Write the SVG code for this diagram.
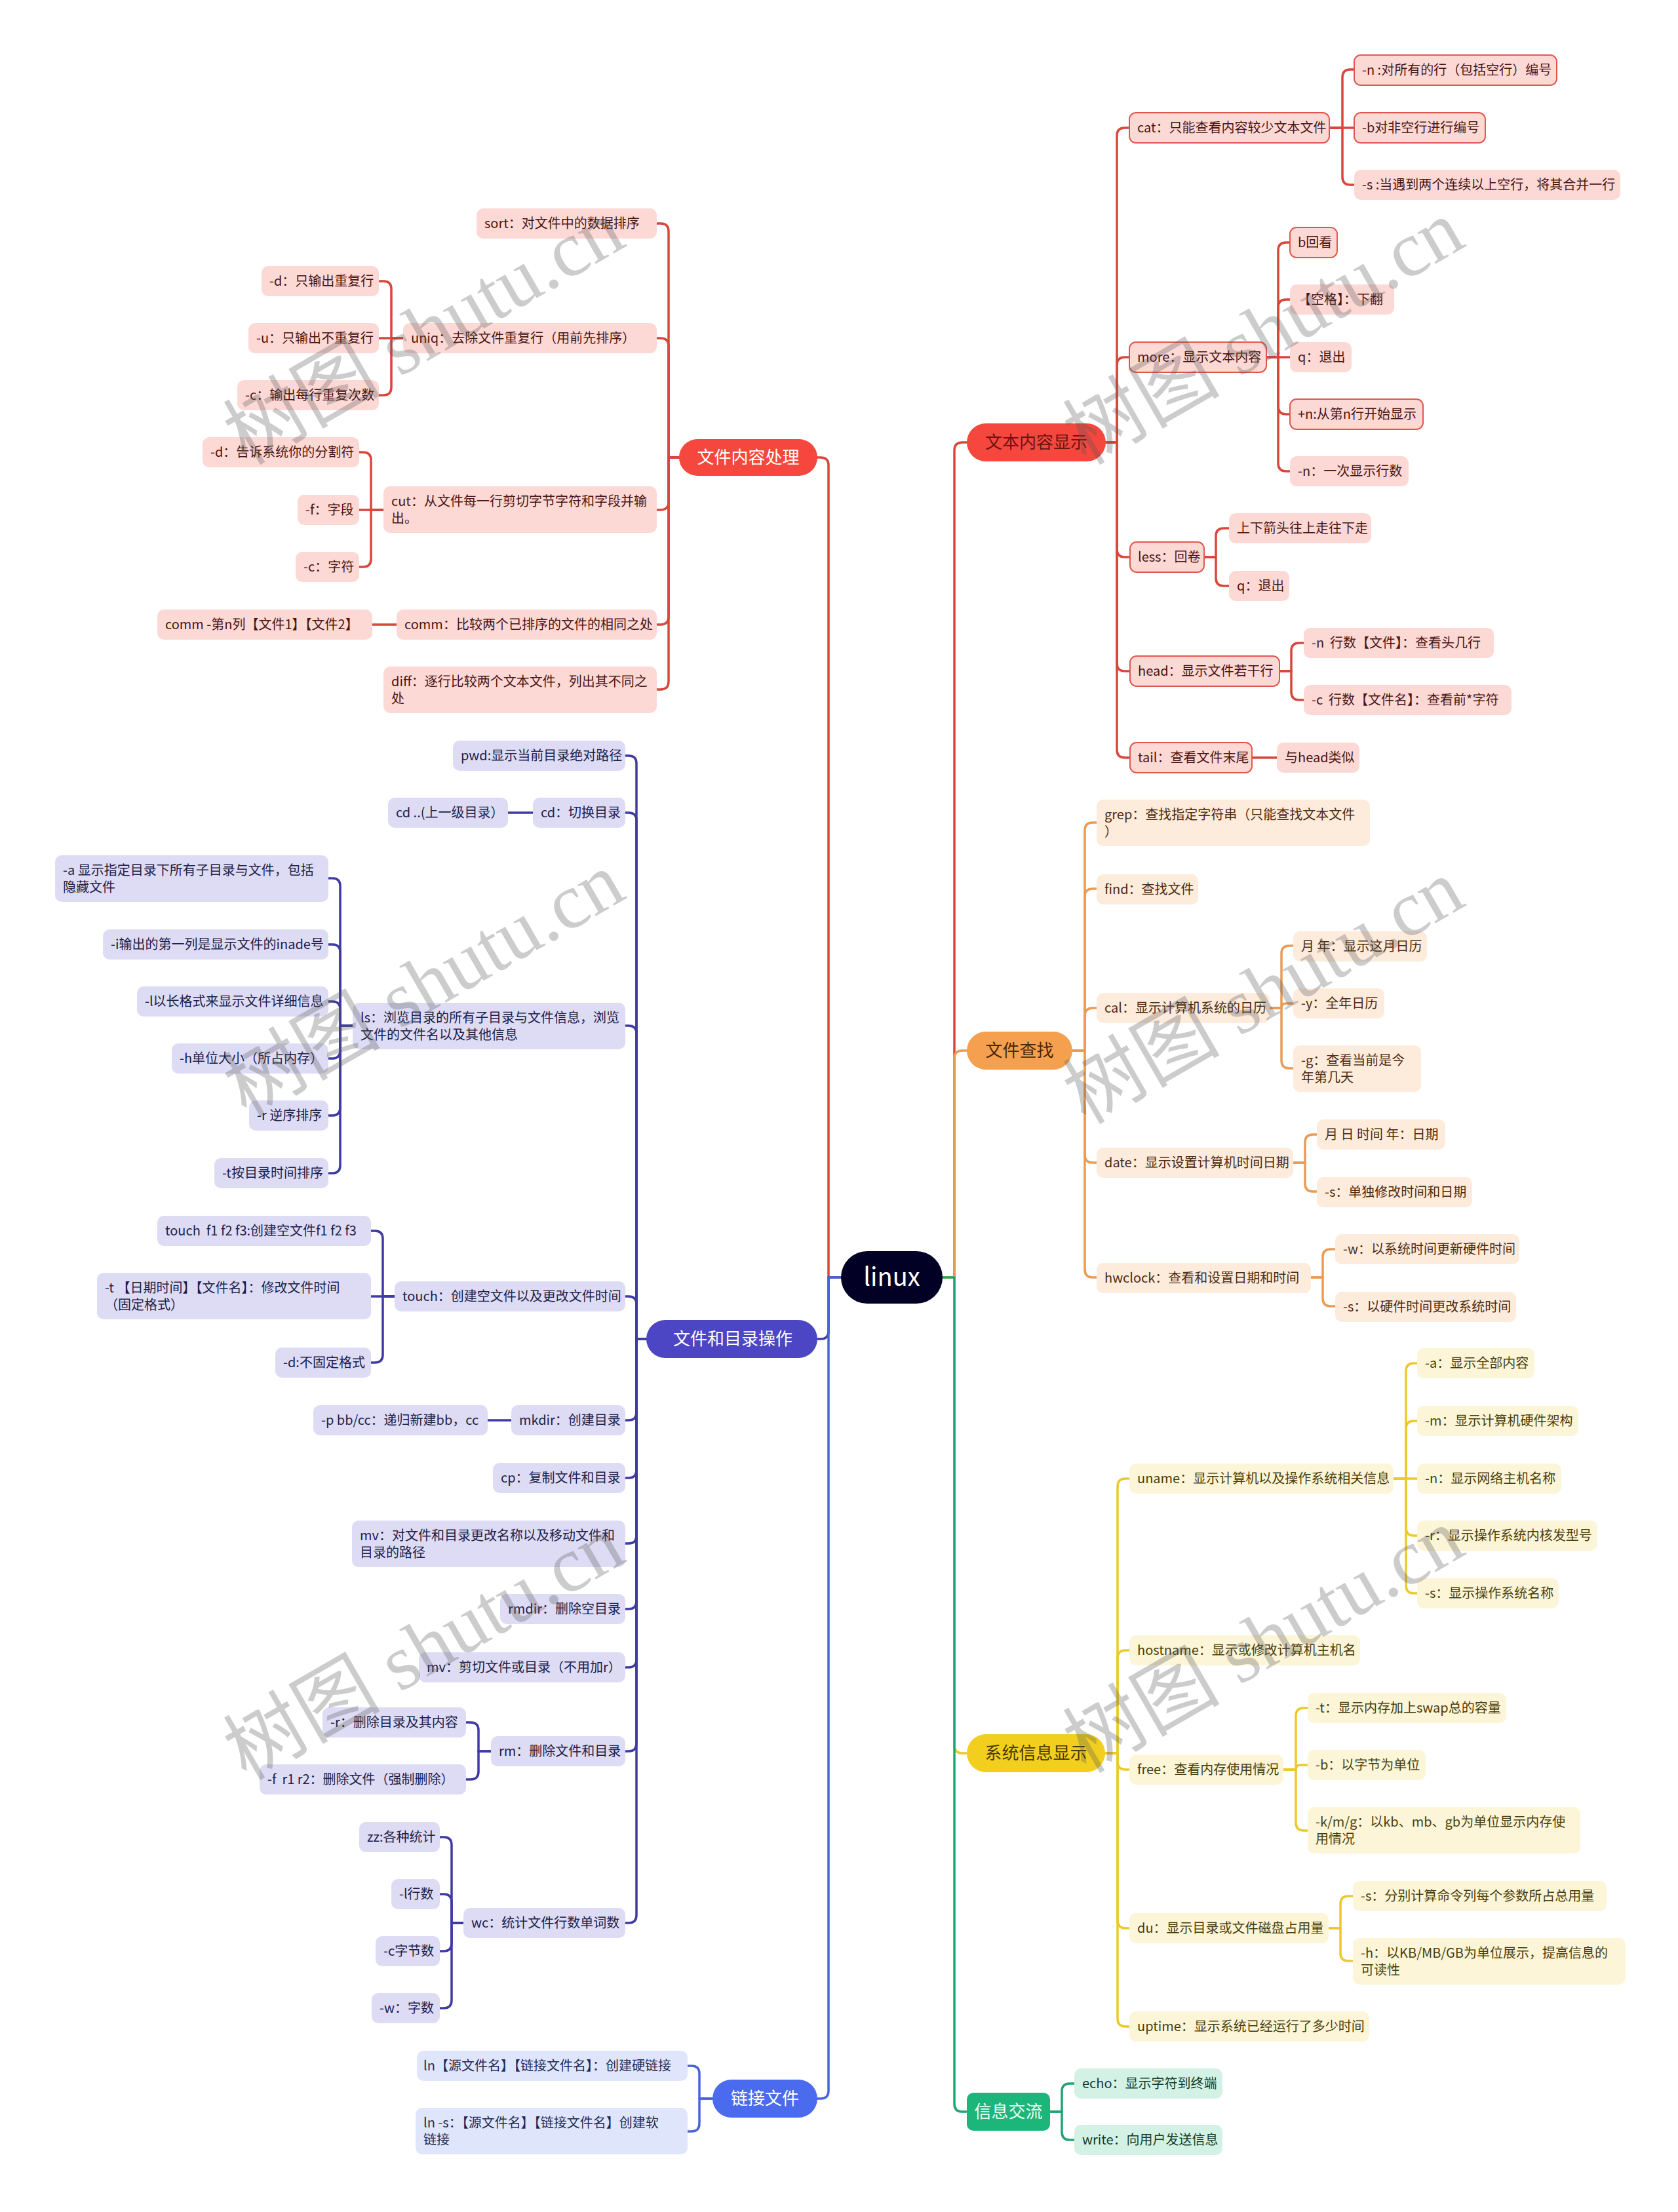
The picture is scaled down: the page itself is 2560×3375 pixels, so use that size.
<svg xmlns="http://www.w3.org/2000/svg" width="2560" height="3375" viewBox="0 0 2560 3375">
<style>
text{font-family:"Noto Sans CJK SC","Noto Sans",sans-serif;font-size:20px;white-space:pre}
.r rect{fill:#fdd9d6}.r text{fill:#4a1512}
.bd rect{stroke:#e2574d;stroke-width:2}
.p rect{fill:#dddcf4}.p text{fill:#20204a}
.b rect{fill:#dfe6fb}.b text{fill:#1e2a55}
.o rect{fill:#fdebdc}.o text{fill:#4d2c10}
.y rect{fill:#fcf5d7}.y text{fill:#4a3e0c}
.g rect{fill:#d3f2e5}.g text{fill:#123d2c}
.m text{font-size:26px;text-anchor:middle}
.conn path{fill:none;stroke-width:3.5;stroke-linejoin:round;stroke-linecap:round}
.cr{stroke:#d9463b}.cp{stroke:#3f3ba3}.cb{stroke:#4a63d8}.co{stroke:#ea9c55}.cy{stroke:#ecc92b}.cg{stroke:#1ea672}
.wm text{font-family:"Liberation Serif","Noto Sans CJK SC",serif;font-size:120px;fill:#5a5a5a;opacity:.3;text-anchor:middle}
</style>
<rect width="2560" height="3375" fill="#ffffff"/>
<g id="connectors" class="conn">
<path class="cr" d="M1283 1949H1264V710Q1264 698 1252 698H1247"/>
<path class="cp" d="M1283 1949H1264V2031Q1264 2043 1252 2043H1247"/>
<path class="cb" d="M1283 1949H1264V3190Q1264 3202 1252 3202H1247"/>
<path class="cr" d="M1438 1949H1456V687Q1456 675 1468 675H1475"/>
<path class="co" d="M1438 1949H1456V1615Q1456 1603 1468 1603H1475"/>
<path class="cy" d="M1438 1949H1456V2663Q1456 2675 1468 2675H1475"/>
<path class="cg" d="M1438 1949H1456V3210Q1456 3222 1468 3222H1475"/>
<path class="cr" d="M1036 698H1020V353Q1020 341 1008 341H1002"/>
<path class="cr" d="M1036 698H1020V528Q1020 516 1008 516H1002"/>
<path class="cr" d="M1036 698H1020V766Q1020 778 1008 778H1002"/>
<path class="cr" d="M1036 698H1020V941Q1020 953 1008 953H1002"/>
<path class="cr" d="M1036 698H1020V1040Q1020 1052 1008 1052H1002"/>
<path class="cr" d="M615 516H597V441Q597 429 585 429H578"/>
<path class="cr" d="M615 516H578"/>
<path class="cr" d="M615 516H597V591Q597 603 585 603H578"/>
<path class="cr" d="M585 778H566V702Q566 690 554 690H548"/>
<path class="cr" d="M585 778H548"/>
<path class="cr" d="M585 778H566V853Q566 865 554 865H548"/>
<path class="cr" d="M605 953H568"/>
<path class="cp" d="M986 2043H971V1165Q971 1153 959 1153H954"/>
<path class="cp" d="M986 2043H971V1252Q971 1240 959 1240H954"/>
<path class="cp" d="M986 2043H971V1577Q971 1565 959 1565H954"/>
<path class="cp" d="M986 2043H971V1990Q971 1978 959 1978H954"/>
<path class="cp" d="M986 2043H971V2155Q971 2167 959 2167H954"/>
<path class="cp" d="M986 2043H971V2243Q971 2255 959 2255H954"/>
<path class="cp" d="M986 2043H971V2343Q971 2355 959 2355H954"/>
<path class="cp" d="M986 2043H971V2443Q971 2455 959 2455H954"/>
<path class="cp" d="M986 2043H971V2532Q971 2544 959 2544H954"/>
<path class="cp" d="M986 2043H971V2660Q971 2672 959 2672H954"/>
<path class="cp" d="M986 2043H971V2922Q971 2934 959 2934H954"/>
<path class="cp" d="M813 1240H775"/>
<path class="cp" d="M538 1565H519V1352Q519 1340 507 1340H501"/>
<path class="cp" d="M538 1565H519V1453Q519 1441 507 1441H501"/>
<path class="cp" d="M538 1565H519V1540Q519 1528 507 1528H501"/>
<path class="cp" d="M538 1565H519V1603Q519 1615 507 1615H501"/>
<path class="cp" d="M538 1565H519V1690Q519 1702 507 1702H501"/>
<path class="cp" d="M538 1565H519V1778Q519 1790 507 1790H501"/>
<path class="cp" d="M602 1978H584V1890Q584 1878 572 1878H566"/>
<path class="cp" d="M602 1978H566"/>
<path class="cp" d="M602 1978H584V2067Q584 2079 572 2079H566"/>
<path class="cp" d="M780 2167H744"/>
<path class="cp" d="M749 2672H730V2640Q730 2628 718 2628H711"/>
<path class="cp" d="M749 2672H730V2703Q730 2715 718 2715H711"/>
<path class="cp" d="M707 2934H689V2815Q689 2803 677 2803H671"/>
<path class="cp" d="M707 2934H689V2902Q689 2890 677 2890H671"/>
<path class="cp" d="M707 2934H689V2965Q689 2977 677 2977H671"/>
<path class="cp" d="M707 2934H689V3052Q689 3064 677 3064H671"/>
<path class="cb" d="M1087 3202H1067V3164Q1067 3152 1055 3152H1049"/>
<path class="cb" d="M1087 3202H1067V3240Q1067 3252 1055 3252H1049"/>
<path class="cr" d="M1687 675H1704V207Q1704 195 1716 195H1723"/>
<path class="cr" d="M1687 675H1704V557Q1704 545 1716 545H1723"/>
<path class="cr" d="M1687 675H1704V838Q1704 850 1716 850H1723"/>
<path class="cr" d="M1687 675H1704V1012Q1704 1024 1716 1024H1723"/>
<path class="cr" d="M1687 675H1704V1144Q1704 1156 1716 1156H1723"/>
<path class="cr" d="M2028 195H2048V118Q2048 106 2060 106H2066"/>
<path class="cr" d="M2028 195H2066"/>
<path class="cr" d="M2028 195H2048V270Q2048 282 2060 282H2066"/>
<path class="cr" d="M1932 545H1950V382Q1950 370 1962 370H1968"/>
<path class="cr" d="M1932 545H1950V469Q1950 457 1962 457H1968"/>
<path class="cr" d="M1932 545H1968"/>
<path class="cr" d="M1932 545H1950V620Q1950 632 1962 632H1968"/>
<path class="cr" d="M1932 545H1950V707Q1950 719 1962 719H1968"/>
<path class="cr" d="M1837 850H1855V818Q1855 806 1867 806H1875"/>
<path class="cr" d="M1837 850H1855V882Q1855 894 1867 894H1875"/>
<path class="cr" d="M1952 1024H1970V993Q1970 981 1982 981H1989"/>
<path class="cr" d="M1952 1024H1970V1056Q1970 1068 1982 1068H1989"/>
<path class="cr" d="M1910 1156H1948"/>
<path class="co" d="M1636 1603H1655V1267Q1655 1255 1667 1255H1673"/>
<path class="co" d="M1636 1603H1655V1368Q1655 1356 1667 1356H1673"/>
<path class="co" d="M1636 1603H1655V1550Q1655 1538 1667 1538H1673"/>
<path class="co" d="M1636 1603H1655V1762Q1655 1774 1667 1774H1673"/>
<path class="co" d="M1636 1603H1655V1937Q1655 1949 1667 1949H1673"/>
<path class="co" d="M1937 1538H1955V1455Q1955 1443 1967 1443H1973"/>
<path class="co" d="M1937 1538H1955Q1955 1531 1962 1531H1973"/>
<path class="co" d="M1937 1538H1955V1618Q1955 1630 1967 1630H1973"/>
<path class="co" d="M1973 1774H1991V1743Q1991 1731 2003 1731H2009"/>
<path class="co" d="M1973 1774H1991V1806Q1991 1818 2003 1818H2009"/>
<path class="co" d="M2000 1949H2018V1918Q2018 1906 2030 1906H2037"/>
<path class="co" d="M2000 1949H2018V1981Q2018 1993 2030 1993H2037"/>
<path class="cy" d="M1686 2675H1705V2268Q1705 2256 1717 2256H1723"/>
<path class="cy" d="M1686 2675H1705V2530Q1705 2518 1717 2518H1723"/>
<path class="cy" d="M1686 2675H1705V2688Q1705 2700 1717 2700H1723"/>
<path class="cy" d="M1686 2675H1705V2930Q1705 2942 1717 2942H1723"/>
<path class="cy" d="M1686 2675H1705V3080Q1705 3092 1717 3092H1723"/>
<path class="cy" d="M2126 2256H2145V2092Q2145 2080 2157 2080H2162"/>
<path class="cy" d="M2126 2256H2145V2180Q2145 2168 2157 2168H2162"/>
<path class="cy" d="M2126 2256H2162"/>
<path class="cy" d="M2126 2256H2145V2331Q2145 2343 2157 2343H2162"/>
<path class="cy" d="M2126 2256H2145V2419Q2145 2431 2157 2431H2162"/>
<path class="cy" d="M1958 2700H1977V2618Q1977 2606 1989 2606H1995"/>
<path class="cy" d="M1958 2700H1977Q1977 2693 1984 2693H1995"/>
<path class="cy" d="M1958 2700H1977V2781Q1977 2793 1989 2793H1995"/>
<path class="cy" d="M2027 2942H2045V2905Q2045 2893 2057 2893H2064"/>
<path class="cy" d="M2027 2942H2045V2980Q2045 2992 2057 2992H2064"/>
<path class="cg" d="M1602 3222H1620V3191Q1620 3179 1632 3179H1639"/>
<path class="cg" d="M1602 3222H1620V3253Q1620 3265 1632 3265H1639"/>
</g>
<g id="root"><rect x="1283" y="1909" width="155" height="80" rx="40" fill="#020024"/><text x="1360.5" y="1962" fill="#ffffff" text-anchor="middle" style="font-size:38px">linux</text></g>
<g id="b_content" class="m"><rect x="1036" y="670" width="211" height="56" rx="28" fill="#f5473d"/><text x="1141.5" y="707" fill="#ffffff">文件内容处理</text></g>
<g id="b_dir" class="m"><rect x="986" y="2014" width="261" height="58" rx="29" fill="#4c45c4"/><text x="1118" y="2052" fill="#ffffff">文件和目录操作</text></g>
<g id="b_link" class="m"><rect x="1087" y="3173" width="160" height="58" rx="29" fill="#4b6bef"/><text x="1167" y="3211" fill="#ffffff">链接文件</text></g>
<g id="b_text" class="m"><rect x="1475" y="646" width="212" height="58" rx="29" fill="#f5473d"/><text x="1581" y="684" fill="#6b1410">文本内容显示</text></g>
<g id="b_find" class="m"><rect x="1475" y="1574" width="161" height="58" rx="29" fill="#f4a04f"/><text x="1555.5" y="1612" fill="#4d2606">文件查找</text></g>
<g id="b_sys" class="m"><rect x="1475" y="2646" width="211" height="58" rx="29" fill="#f2cf1f"/><text x="1580.5" y="2684" fill="#4a3a00">系统信息显示</text></g>
<g id="b_msg" class="m"><rect x="1475" y="3193" width="127" height="58" rx="10" fill="#1db67a"/><text x="1538.5" y="3231" fill="#e8fff4">信息交流</text></g>
<g id="n_sort" class="r"><rect x="727" y="318" width="275" height="46" rx="10"/><text x="739" y="348">sort：对文件中的数据排序</text></g>
<g id="n_uniq" class="r"><rect x="615" y="493" width="387" height="46" rx="10"/><text x="627" y="523">uniq：去除文件重复行（用前先排序）</text></g>
<g id="n_uniq_d" class="r"><rect x="399" y="406" width="179" height="46" rx="10"/><text x="411" y="436">-d：只输出重复行</text></g>
<g id="n_uniq_u" class="r"><rect x="379" y="493" width="199" height="46" rx="10"/><text x="391" y="523">-u：只输出不重复行</text></g>
<g id="n_uniq_c" class="r"><rect x="362" y="580" width="216" height="46" rx="10"/><text x="374" y="610">-c：输出每行重复次数</text></g>
<g id="n_cut" class="r"><rect x="585" y="742" width="417" height="71" rx="10"/><text x="597" y="772">cut：从文件每一行剪切字节字符和字段并输</text><text x="597" y="798">出。</text></g>
<g id="n_cut_d" class="r"><rect x="309" y="667" width="239" height="46" rx="10"/><text x="321" y="697">-d：告诉系统你的分割符</text></g>
<g id="n_cut_f" class="r"><rect x="454" y="755" width="94" height="46" rx="10"/><text x="466" y="785">-f：字段</text></g>
<g id="n_cut_c" class="r"><rect x="451" y="842" width="97" height="46" rx="10"/><text x="463" y="872">-c：字符</text></g>
<g id="n_comm" class="r"><rect x="605" y="930" width="397" height="46" rx="10"/><text x="617" y="960">comm：比较两个已排序的文件的相同之处</text></g>
<g id="n_comm_n" class="r"><rect x="240" y="930" width="328" height="46" rx="10"/><text x="252" y="960">comm -第n列【文件1】【文件2】</text></g>
<g id="n_diff" class="r"><rect x="585" y="1017" width="417" height="71" rx="10"/><text x="597" y="1047">diff：逐行比较两个文本文件，列出其不同之</text><text x="597" y="1073">处</text></g>
<g id="n_pwd" class="p"><rect x="691" y="1130" width="263" height="46" rx="10"/><text x="703" y="1160">pwd:显示当前目录绝对路径</text></g>
<g id="n_cd" class="p"><rect x="813" y="1217" width="141" height="46" rx="10"/><text x="825" y="1247">cd：切换目录</text></g>
<g id="n_cd_up" class="p"><rect x="592" y="1217" width="183" height="46" rx="10"/><text x="604" y="1247">cd ..(上一级目录）</text></g>
<g id="n_ls" class="p"><rect x="538" y="1530" width="416" height="71" rx="10"/><text x="550" y="1560">ls：浏览目录的所有子目录与文件信息，浏览</text><text x="550" y="1586">文件的文件名以及其他信息</text></g>
<g id="n_ls_a" class="p"><rect x="84" y="1305" width="417" height="71" rx="10"/><text x="96" y="1335">-a 显示指定目录下所有子目录与文件，包括</text><text x="96" y="1361">隐藏文件</text></g>
<g id="n_ls_i" class="p"><rect x="157" y="1418" width="344" height="46" rx="10"/><text x="169" y="1448">-i输出的第一列是显示文件的inade号</text></g>
<g id="n_ls_l" class="p"><rect x="209" y="1505" width="292" height="46" rx="10"/><text x="221" y="1535">-l以长格式来显示文件详细信息</text></g>
<g id="n_ls_h" class="p"><rect x="262" y="1592" width="239" height="46" rx="10"/><text x="274" y="1622">-h单位大小（所占内存）</text></g>
<g id="n_ls_r" class="p"><rect x="380" y="1679" width="121" height="46" rx="10"/><text x="392" y="1709">-r 逆序排序</text></g>
<g id="n_ls_t" class="p"><rect x="327" y="1767" width="174" height="46" rx="10"/><text x="339" y="1797">-t按目录时间排序</text></g>
<g id="n_touch" class="p"><rect x="602" y="1955" width="352" height="46" rx="10"/><text x="614" y="1985">touch：创建空文件以及更改文件时间</text></g>
<g id="n_touch_f" class="p"><rect x="240" y="1855" width="326" height="46" rx="10"/><text x="252" y="1885">touch  f1 f2 f3:创建空文件f1 f2 f3</text></g>
<g id="n_touch_t" class="p"><rect x="148" y="1942" width="418" height="71" rx="10"/><text x="160" y="1972">-t 【日期时间】【文件名】：修改文件时间</text><text x="160" y="1998">（固定格式）</text></g>
<g id="n_touch_d" class="p"><rect x="420" y="2056" width="146" height="46" rx="10"/><text x="432" y="2086">-d:不固定格式</text></g>
<g id="n_mkdir" class="p"><rect x="780" y="2144" width="174" height="46" rx="10"/><text x="792" y="2174">mkdir：创建目录</text></g>
<g id="n_mkdir_p" class="p"><rect x="478" y="2144" width="266" height="46" rx="10"/><text x="490" y="2174">-p bb/cc：递归新建bb，cc</text></g>
<g id="n_cp" class="p"><rect x="752" y="2232" width="202" height="46" rx="10"/><text x="764" y="2262">cp：复制文件和目录</text></g>
<g id="n_mv" class="p"><rect x="537" y="2320" width="417" height="71" rx="10"/><text x="549" y="2350">mv：对文件和目录更改名称以及移动文件和</text><text x="549" y="2376">目录的路径</text></g>
<g id="n_rmdir" class="p"><rect x="763" y="2432" width="191" height="46" rx="10"/><text x="775" y="2462">rmdir：删除空目录</text></g>
<g id="n_mv2" class="p"><rect x="639" y="2521" width="315" height="46" rx="10"/><text x="651" y="2551">mv：剪切文件或目录（不用加r）</text></g>
<g id="n_rm" class="p"><rect x="749" y="2649" width="205" height="46" rx="10"/><text x="761" y="2679">rm：删除文件和目录</text></g>
<g id="n_rm_r" class="p"><rect x="492" y="2605" width="219" height="46" rx="10"/><text x="504" y="2635">-r：删除目录及其内容</text></g>
<g id="n_rm_f" class="p"><rect x="396" y="2692" width="315" height="46" rx="10"/><text x="408" y="2722">-f  r1 r2：删除文件（强制删除）</text></g>
<g id="n_wc" class="p"><rect x="707" y="2911" width="247" height="46" rx="10"/><text x="719" y="2941">wc：统计文件行数单词数</text></g>
<g id="n_wc_zz" class="p"><rect x="548" y="2780" width="123" height="46" rx="10"/><text x="560" y="2810">zz:各种统计</text></g>
<g id="n_wc_l" class="p"><rect x="597" y="2867" width="74" height="46" rx="10"/><text x="609" y="2897">-l行数</text></g>
<g id="n_wc_c" class="p"><rect x="573" y="2954" width="98" height="46" rx="10"/><text x="585" y="2984">-c字节数</text></g>
<g id="n_wc_w" class="p"><rect x="567" y="3041" width="104" height="46" rx="10"/><text x="579" y="3071">-w：字数</text></g>
<g id="n_ln" class="b"><rect x="636" y="3129" width="413" height="46" rx="10"/><text x="646" y="3159">ln【源文件名】【链接文件名】：创建硬链接</text></g>
<g id="n_lns" class="b"><rect x="634" y="3216" width="415" height="71" rx="10"/><text x="646" y="3246">ln -s：【源文件名】【链接文件名】创建软</text><text x="646" y="3272">链接</text></g>
<g id="n_cat" class="r bd"><rect x="1723" y="172" width="305" height="46" rx="10"/><text x="1735" y="202">cat：只能查看内容较少文本文件</text></g>
<g id="n_cat_n" class="r bd"><rect x="2066" y="84" width="309" height="46" rx="10"/><text x="2078" y="114">-n :对所有的行（包括空行）编号</text></g>
<g id="n_cat_b" class="r bd"><rect x="2066" y="172" width="200" height="46" rx="10"/><text x="2078" y="202">-b对非空行进行编号</text></g>
<g id="n_cat_s" class="r"><rect x="2066" y="259" width="406" height="46" rx="10"/><text x="2078" y="289">-s :当遇到两个连续以上空行，将其合并一行</text></g>
<g id="n_more" class="r bd"><rect x="1723" y="522" width="209" height="46" rx="10"/><text x="1735" y="552">more：显示文本内容</text></g>
<g id="n_more_b" class="r bd"><rect x="1968" y="347" width="72" height="46" rx="10"/><text x="1980" y="377">b回看</text></g>
<g id="n_more_sp" class="r"><rect x="1968" y="434" width="159" height="46" rx="10"/><text x="1980" y="464">【空格】：下翻</text></g>
<g id="n_more_q" class="r"><rect x="1968" y="522" width="94" height="46" rx="10"/><text x="1980" y="552">q：退出</text></g>
<g id="n_more_pn" class="r bd"><rect x="1968" y="609" width="203" height="46" rx="10"/><text x="1980" y="639">+n:从第n行开始显示</text></g>
<g id="n_more_n" class="r"><rect x="1968" y="696" width="181" height="46" rx="10"/><text x="1980" y="726">-n：一次显示行数</text></g>
<g id="n_less" class="r bd"><rect x="1724" y="827" width="113" height="46" rx="10"/><text x="1736" y="857">less：回卷</text></g>
<g id="n_less_a" class="r"><rect x="1875" y="783" width="217" height="46" rx="10"/><text x="1887" y="813">上下箭头往上走往下走</text></g>
<g id="n_less_q" class="r"><rect x="1875" y="871" width="92" height="46" rx="10"/><text x="1887" y="901">q：退出</text></g>
<g id="n_head" class="r bd"><rect x="1724" y="1001" width="228" height="46" rx="10"/><text x="1736" y="1031">head：显示文件若干行</text></g>
<g id="n_head_n" class="r"><rect x="1989" y="958" width="290" height="46" rx="10"/><text x="2001" y="988">-n  行数【文件】：查看头几行</text></g>
<g id="n_head_c" class="r"><rect x="1989" y="1045" width="317" height="46" rx="10"/><text x="2001" y="1075">-c  行数【文件名】：查看前*字符</text></g>
<g id="n_tail" class="r bd"><rect x="1724" y="1133" width="186" height="46" rx="10"/><text x="1736" y="1163">tail：查看文件末尾</text></g>
<g id="n_tail_s" class="r"><rect x="1948" y="1133" width="126" height="46" rx="10"/><text x="1960" y="1163">与head类似</text></g>
<g id="n_grep" class="o"><rect x="1673" y="1220" width="417" height="71" rx="10"/><text x="1685" y="1250">grep：查找指定字符串（只能查找文本文件</text><text x="1685" y="1276">）</text></g>
<g id="n_find" class="o"><rect x="1673" y="1334" width="155" height="46" rx="10"/><text x="1685" y="1364">find：查找文件</text></g>
<g id="n_cal" class="o"><rect x="1673" y="1515" width="264" height="46" rx="10"/><text x="1685" y="1545">cal：显示计算机系统的日历</text></g>
<g id="n_cal_m" class="o"><rect x="1973" y="1421" width="204" height="46" rx="10"/><text x="1985" y="1451">月 年：显示这月日历</text></g>
<g id="n_cal_y" class="o"><rect x="1973" y="1508" width="139" height="46" rx="10"/><text x="1985" y="1538">-y：全年日历</text></g>
<g id="n_cal_g" class="o"><rect x="1973" y="1595" width="195" height="71" rx="10"/><text x="1985" y="1625">-g：查看当前是今</text><text x="1985" y="1651">年第几天</text></g>
<g id="n_date" class="o"><rect x="1673" y="1751" width="300" height="46" rx="10"/><text x="1685" y="1781">date：显示设置计算机时间日期</text></g>
<g id="n_date_d" class="o"><rect x="2009" y="1708" width="196" height="46" rx="10"/><text x="2021" y="1738">月 日 时间 年：日期</text></g>
<g id="n_date_s" class="o"><rect x="2009" y="1796" width="237" height="46" rx="10"/><text x="2021" y="1826">-s：单独修改时间和日期</text></g>
<g id="n_hw" class="o"><rect x="1673" y="1927" width="327" height="46" rx="10"/><text x="1685" y="1957">hwclock：查看和设置日期和时间</text></g>
<g id="n_hw_w" class="o"><rect x="2037" y="1883" width="281" height="46" rx="10"/><text x="2049" y="1913">-w：以系统时间更新硬件时间</text></g>
<g id="n_hw_s" class="o"><rect x="2037" y="1971" width="276" height="46" rx="10"/><text x="2049" y="2001">-s：以硬件时间更改系统时间</text></g>
<g id="n_uname" class="y"><rect x="1723" y="2233" width="403" height="46" rx="10"/><text x="1735" y="2263">uname：显示计算机以及操作系统相关信息</text></g>
<g id="n_un_a" class="y"><rect x="2162" y="2057" width="179" height="46" rx="10"/><text x="2174" y="2087">-a：显示全部内容</text></g>
<g id="n_un_m" class="y"><rect x="2162" y="2145" width="246" height="46" rx="10"/><text x="2174" y="2175">-m：显示计算机硬件架构</text></g>
<g id="n_un_n" class="y"><rect x="2162" y="2233" width="220" height="46" rx="10"/><text x="2174" y="2263">-n：显示网络主机名称</text></g>
<g id="n_un_r" class="y"><rect x="2162" y="2320" width="275" height="46" rx="10"/><text x="2174" y="2350">-r：显示操作系统内核发型号</text></g>
<g id="n_un_s" class="y"><rect x="2162" y="2408" width="216" height="46" rx="10"/><text x="2174" y="2438">-s：显示操作系统名称</text></g>
<g id="n_host" class="y"><rect x="1723" y="2495" width="352" height="46" rx="10"/><text x="1735" y="2525">hostname：显示或修改计算机主机名</text></g>
<g id="n_free" class="y"><rect x="1723" y="2677" width="235" height="46" rx="10"/><text x="1735" y="2707">free：查看内存使用情况</text></g>
<g id="n_free_t" class="y"><rect x="1995" y="2583" width="303" height="46" rx="10"/><text x="2007" y="2613">-t：显示内存加上swap总的容量</text></g>
<g id="n_free_b" class="y"><rect x="1995" y="2670" width="180" height="46" rx="10"/><text x="2007" y="2700">-b：以字节为单位</text></g>
<g id="n_free_k" class="y"><rect x="1995" y="2757" width="416" height="71" rx="10"/><text x="2007" y="2787">-k/m/g：以kb、mb、gb为单位显示内存使</text><text x="2007" y="2813">用情况</text></g>
<g id="n_du" class="y"><rect x="1723" y="2919" width="304" height="46" rx="10"/><text x="1735" y="2949">du：显示目录或文件磁盘占用量</text></g>
<g id="n_du_s" class="y"><rect x="2064" y="2870" width="387" height="46" rx="10"/><text x="2076" y="2900">-s：分别计算命令列每个参数所占总用量</text></g>
<g id="n_du_h" class="y"><rect x="2064" y="2957" width="416" height="71" rx="10"/><text x="2076" y="2987">-h：以KB/MB/GB为单位展示，提高信息的</text><text x="2076" y="3013">可读性</text></g>
<g id="n_uptime" class="y"><rect x="1723" y="3069" width="366" height="46" rx="10"/><text x="1735" y="3099">uptime：显示系统已经运行了多少时间</text></g>
<g id="n_echo" class="g"><rect x="1639" y="3156" width="226" height="46" rx="10"/><text x="1651" y="3186">echo：显示字符到终端</text></g>
<g id="n_write" class="g"><rect x="1639" y="3242" width="226" height="46" rx="10"/><text x="1651" y="3272">write：向用户发送信息</text></g>
<g id="watermark" class="wm">
<text x="646" y="548" transform="rotate(-30 646 506)">树图 shutu.cn</text>
<text x="1927" y="548" transform="rotate(-30 1927 506)">树图 shutu.cn</text>
<text x="646" y="1543" transform="rotate(-30 646 1501)">树图 shutu.cn</text>
<text x="1927" y="1554" transform="rotate(-30 1927 1512)">树图 shutu.cn</text>
<text x="646" y="2555" transform="rotate(-30 646 2513)">树图 shutu.cn</text>
<text x="1927" y="2544" transform="rotate(-30 1927 2502)">树图 shutu.cn</text>
</g>
</svg>
